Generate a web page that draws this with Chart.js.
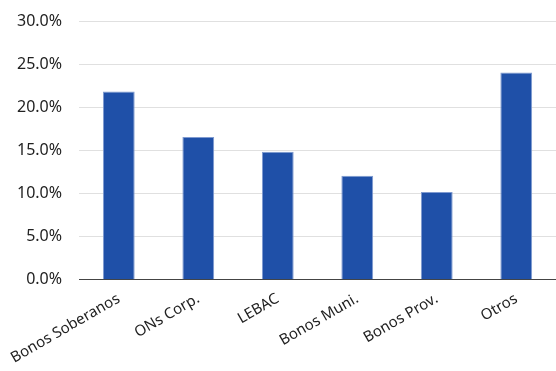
<!DOCTYPE html>
<html>
<head>
<meta charset="utf-8">
<script src="https://cdn.jsdelivr.net/npm/chart.js@4/dist/chart.umd.min.js"></script>
<style>
  html, body { margin: 0; padding: 0; background: #fff; }
  #wrap { width: 556px; height: 371px; }
</style>
</head>
<body>
<div id="wrap"><canvas id="grafico"></canvas></div>
<script>
"use strict"

const categorias = ["Bonos Soberanos", "ONs Corp.", "LEBAC", "Bonos Muni.", "Bonos Prov.", "Otros"];
const porcentajes = [21.9, 16.6, 14.9, 12.1, 10.2, 24.1];

let ctx = document.getElementById("grafico").getContext("2d");

new Chart(ctx, {
    type: "bar",
    data: {
        labels: categorias,
        datasets: [{
            data: porcentajes,
            backgroundColor: "#1f50a8",
            borderColor: "#7f9ad0",
            borderWidth: 1,
            barPercentage: 0.4,
            categoryPercentage: 1
        }]
    },
    options: {
        responsive: true,
        maintainAspectRatio: false,
        animation: false,
        layout: { padding: { top: 0, right: 0, left: 0, bottom: 2 } },
        plugins: {
            legend: { display: false },
            tooltip: { enabled: false }
        },
        scales: {
            x: {
                grid: { display: false },
                border: { display: true, color: "#444", width: 1 },
                ticks: {
                    color: "#222",
                    font: { family: "Noto Sans", size: 15 },
                    minRotation: 30,
                    maxRotation: 30,
                    padding: 2
                }
            },
            y: {
                min: 0,
                max: 30,
                grid: { color: "#e0e0e0", drawTicks: false },
                border: { display: false },
                ticks: {
                    stepSize: 5,
                    color: "#222",
                    padding: 17,
                    font: { family: "Noto Sans", size: 16, lineHeight: 0.6 },
                    callback: v => v.toFixed(1) + "%"
                }
            }
        }
    }
});
</script>
</body>
</html>
